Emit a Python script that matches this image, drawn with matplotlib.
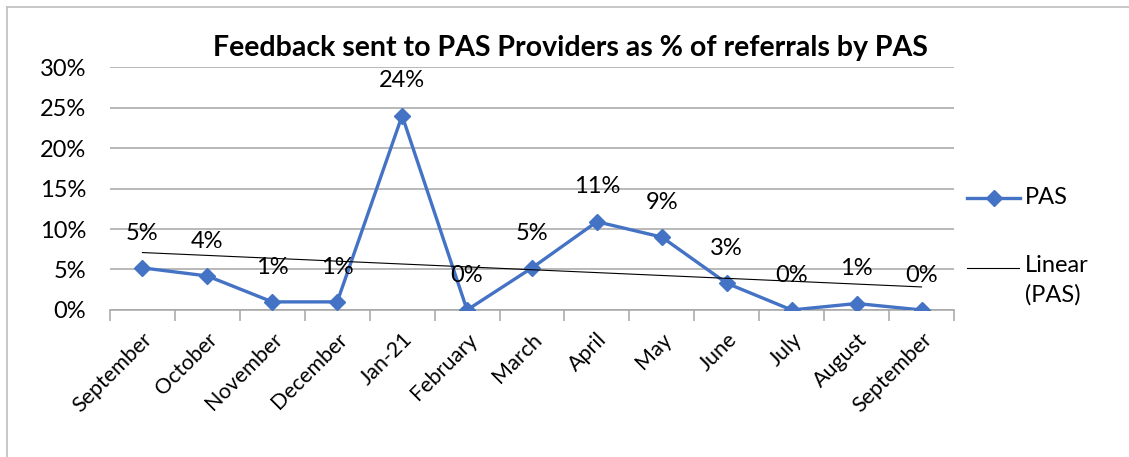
import numpy as np
import matplotlib
matplotlib.use("Agg")
import matplotlib.pyplot as plt
from matplotlib.lines import Line2D
from matplotlib.ticker import FuncFormatter, FixedLocator

plt.rcParams['font.family'] = ['Lato', 'DejaVu Sans']

months = ["September", "October", "November", "December", "Jan-21", "February",
          "March", "April", "May", "June", "July", "August", "September"]
pas = [5.2, 4.2, 1.0, 1.0, 24.0, 0.0, 5.2, 10.9, 9.0, 3.3, 0.0, 0.8, 0.0]
labels = ["5%", "4%", "1%", "1%", "24%", "0%", "5%", "11%", "9%", "3%", "0%", "1%", "0%"]

blue = "#4472C4"
grid_grey = "#A6A6A6"
W, H = 1129, 457

fig = plt.figure(figsize=(W / 100, H / 100), dpi=100)
ax = fig.add_axes([0.0974, 0.3217, 0.7476, 0.5316])

x = np.arange(len(months))
ax.plot(x, pas, color=blue, lw=2.4, marker="D", markersize=8.5, zorder=3)

# linear trend
slope, intercept = np.polyfit(x, pas, 1)
ax.plot(x, slope * x + intercept, color="black", lw=0.8, zorder=4)

for xi, v, t in zip(x, pas, labels):
    ax.annotate(t, (xi, v), xytext=(0, 25), textcoords="offset points",
                ha="center", va="center", fontsize=17, zorder=5)

ax.set_xlim(-0.5, len(months) - 0.5)
ax.set_ylim(0, 30)
ax.set_yticks(np.arange(0, 31, 5))
ax.yaxis.set_major_formatter(FuncFormatter(lambda v, p: f"{v:.0f}%"))
ax.tick_params(axis="y", length=0, labelsize=17, pad=17)
ax.grid(axis="y", color=grid_grey, lw=1.1)
ax.set_axisbelow(True)

ax.set_xticks(x)
ax.set_xticklabels(months, rotation=45, ha="right", va="top",
                   rotation_mode="anchor", fontsize=15.5)
ax.tick_params(axis="x", which="major", length=0, pad=14)
ax.xaxis.set_minor_locator(FixedLocator(np.arange(-0.5, len(months), 1)))
ax.tick_params(axis="x", which="minor", length=8, color=grid_grey, width=1.1)

for s in ["top", "right", "left"]:
    ax.spines[s].set_visible(False)
ax.spines["bottom"].set_color(grid_grey)
ax.spines["bottom"].set_linewidth(1.1)

fig.text(0.505, 1 - 48 / H, "Feedback sent to PAS Providers as % of referrals by PAS",
         ha="center", va="center", fontsize=20.5, fontweight="bold")

# legend, laid out by hand so the handle sits beside the first label line
fig.add_artist(Line2D([967 / W, 1020 / W], [1 - 198 / H] * 2, color=blue, lw=2.4))
fig.add_artist(Line2D([993.5 / W], [1 - 198 / H], color=blue, marker="D", markersize=8.5))
fig.text(1025 / W, 1 - 198 / H, "PAS", ha="left", va="center", fontsize=17)
fig.add_artist(Line2D([967 / W, 1019 / W], [1 - 268 / H] * 2, color="black", lw=0.8))
fig.text(1025 / W, 1 - 255 / H, "Linear\n(PAS)", ha="left", va="top", fontsize=17,
         linespacing=1.45)

# chart frame
fig.add_artist(Line2D([7 / W, 1.0], [1 - 7 / H, 1 - 7 / H], color="#BFBFBF", lw=1.2))
fig.add_artist(Line2D([7 / W, 7 / W], [0.0, 1 - 7 / H], color="#BFBFBF", lw=1.2))

fig.savefig("out.png", dpi=100)
